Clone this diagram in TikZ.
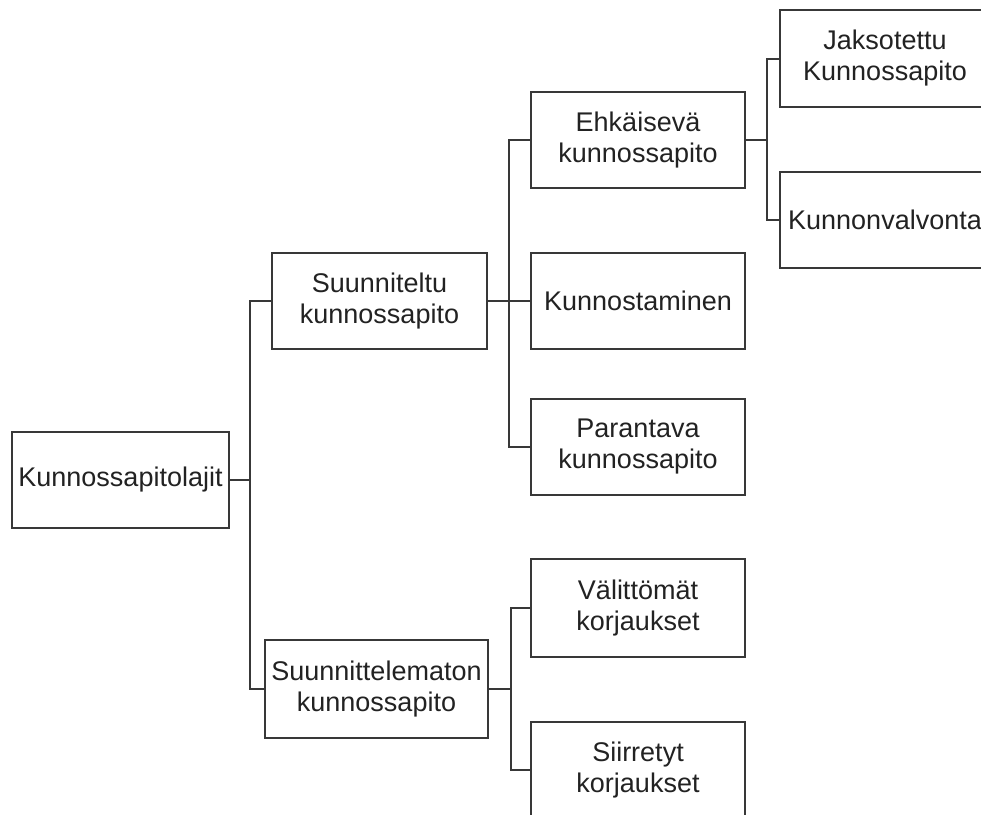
\documentclass[tikz,border=0pt]{standalone}
\usepackage{fontspec}
\setmainfont{Liberation Sans}
\definecolor{linec}{HTML}{383838}
\definecolor{textc}{HTML}{222222}
\begin{document}
\begin{tikzpicture}[x=1pt,y=-1pt,
  box/.style={draw=linec,line width=2pt,fill=white,inner sep=0pt,
    minimum width=#1,minimum height=96pt,align=center,text=textc,
    font=\fontsize{27}{31}\selectfont},
  box/.default=214pt,
  conn/.style={draw=linec,line width=2pt}]
\useasboundingbox (0,0) rectangle (981,814);
\clip (0,0) rectangle (981,814);
\fill[white] (0,0) rectangle (981,814);
\node[box=217pt] (root) at (120.5,479.5) {Kunnossapitolajit};
\node[box=215pt] (A) at (379.5,301) {Suunniteltu\\kunnossapito};
\node[box=223pt,minimum height=98pt] (B) at (376.5,689) {Suunnittelematon\\kunnossapito};
\node[box] (E) at (638,140) {Ehkäisevä\\kunnossapito};
\node[box] (K) at (638,301) {Kunnostaminen};
\node[box] (P) at (638,446.5) {Parantava\\kunnossapito};
\node[box,minimum height=98pt] (V) at (638,608) {Välittömät\\korjaukset};
\node[box] (S) at (638,770) {Siirretyt\\korjaukset};
\node[box,minimum height=97pt,minimum width=210pt] (J) at (885,58.5) {Jaksotettu\\Kunnossapito};
\node[box,minimum width=210pt] (W) at (885,220) {Kunnonvalvonta};
\coordinate (t1) at (250,0);
\coordinate (t2) at (509,0);
\coordinate (t3) at (511,0);
\coordinate (t4) at (767,0);
\draw[conn] (root.east) -- (root.east -| t1);
\draw[conn] (A.west) -| (t1 |- B.west) -- (B.west);
\draw[conn] (A.east) -- (K.west);
\draw[conn] (E.west) -| (t2 |- P.west) -- (P.west);
\draw[conn] (B.east) -- (B.east -| t3);
\draw[conn] (V.west) -| (t3 |- S.west) -- (S.west);
\draw[conn] (E.east) -- (E.east -| t4);
\draw[conn] (J.west) -| (t4 |- W.west) -- (W.west);
\end{tikzpicture}
\end{document}
